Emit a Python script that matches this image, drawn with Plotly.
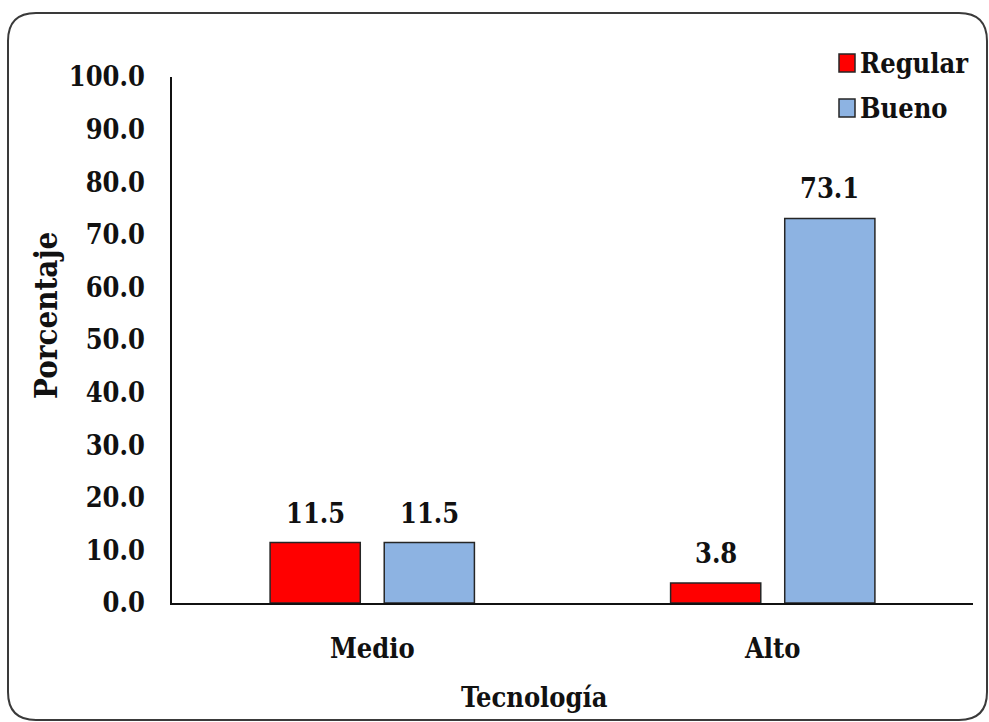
import plotly.graph_objects as go

# Data
categories = ["Medio", "Alto"]
series_names = ["Regular", "Bueno"]
regular_values = [11.5, 3.8]
bueno_values = [11.5, 73.1]
y_tick_values = [0, 10, 20, 30, 40, 50, 60, 70, 80, 90, 100]
y_tick_labels = [f"{v:.1f}" for v in y_tick_values]

colors = ["#FF0000", "#8DB3E2"]
edge = "#262626"
font_family = "DejaVu Serif Condensed, DejaVu Serif"
fs = 27

W, H = 989, 722
ML, MR, MT, MB = 172, 16, 77, 119
PW, PH = W - ML - MR, H - MT - MB


def px(x):
    return (x - ML) / PW


def py(y):
    return (H - MB - y) / PH


def bold(size):
    return dict(family=font_family, size=size, color="#111111", weight="bold")


fig = go.Figure()
for name, vals, col in zip(series_names, [regular_values, bueno_values], colors):
    fig.add_trace(go.Bar(
        x=categories, y=vals, name=name,
        marker=dict(color=col, line=dict(color=edge, width=1.5)),
        showlegend=False,
    ))

# value labels above each bar
slot_offset = 57
for i, vals in enumerate([regular_values, bueno_values]):
    shift = -slot_offset if i == 0 else slot_offset
    for c, v in zip(categories, vals):
        fig.add_annotation(
            x=c, y=v, xref="x", yref="y", text=f"{v:.1f}",
            showarrow=False, yanchor="bottom", xshift=shift, yshift=12,
            font=bold(fs),
        )

# axis titles
fig.add_annotation(
    x=px(46), y=py(316), xref="paper", yref="paper", text="Porcentaje",
    textangle=-90, showarrow=False, xanchor="center", yanchor="middle",
    font=bold(31),
)
fig.add_annotation(
    x=px(534), y=py(697), xref="paper", yref="paper", text="Tecnología",
    showarrow=False, xanchor="center", yanchor="middle",
    font=bold(fs),
)

# legend
legend_rows = [63, 108]
for name, col, yc in zip(series_names, colors, legend_rows):
    fig.add_shape(
        type="rect", xref="paper", yref="paper",
        x0=px(839), x1=px(855), y0=py(yc - 9), y1=py(yc + 9),
        fillcolor=col, line=dict(color=edge, width=1.5),
    )
    fig.add_annotation(
        x=px(858), y=py(yc), xref="paper", yref="paper", text=name,
        showarrow=False, xanchor="left", yanchor="middle",
        font=bold(fs),
    )

# rounded outer frame
L, T, R, B, r = 8, 13, 987, 720, 28
path = (
    f"M {px(L)},{py(T + r)} Q {px(L)},{py(T)} {px(L + r)},{py(T)} "
    f"L {px(R - r)},{py(T)} Q {px(R)},{py(T)} {px(R)},{py(T + r)} "
    f"L {px(R)},{py(B - r)} Q {px(R)},{py(B)} {px(R - r)},{py(B)} "
    f"L {px(L + r)},{py(B)} Q {px(L)},{py(B)} {px(L)},{py(B - r)} Z"
)
fig.add_shape(type="path", xref="paper", yref="paper", path=path,
              line=dict(color="#3a3a3a", width=2), layer="below")

fig.update_layout(
    width=W, height=H,
    margin=dict(l=ML, r=MR, t=MT, b=MB),
    paper_bgcolor="white", plot_bgcolor="white",
    barmode="group", bargap=0.43, bargroupgap=0.21,
    font=dict(family=font_family, size=fs, color="#111111"),
)
fig.update_xaxes(
    showline=True, linecolor="#111111", linewidth=1.5,
    showgrid=False, ticks="", ticklabelstandoff=21,
    tickfont=bold(fs),
)
fig.update_yaxes(
    range=[0, 100], tickvals=y_tick_values, ticktext=y_tick_labels,
    showline=True, linecolor="#111111", linewidth=1.5,
    showgrid=False, zeroline=False, ticks="", ticklabelstandoff=20,
    tickfont=bold(fs),
)

fig.write_html("out.html")
